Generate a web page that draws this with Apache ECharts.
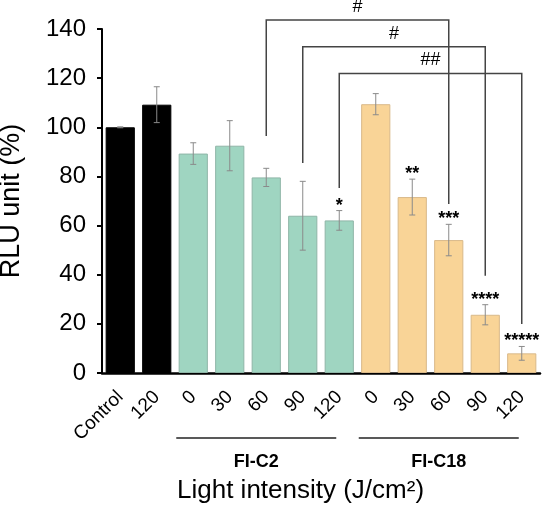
<!DOCTYPE html>
<html>
<head>
<meta charset="utf-8">
<script src="https://cdn.jsdelivr.net/npm/echarts@6/dist/echarts.min.js"></script>
<style>html,body{margin:0;padding:0;background:#fff;}#c{width:542px;height:510px;}</style>
</head>
<body>
<div id="c"></div>
<script>
// ---- data ----
var categories = ['Control', '120', '0', '30', '60', '90', '120', '0', '30', '60', '90', '120'];
var groupOf = ['ctrl', 'ctrl', 'c2', 'c2', 'c2', 'c2', 'c2', 'c18', 'c18', 'c18', 'c18', 'c18'];
var values = [100, 109.2, 89.3, 92.5, 79.6, 64.0, 62.1, 109.4, 71.6, 54.1, 23.7, 8.0];
var errors = [0.2, 7.3, 4.4, 10.2, 3.7, 14.0, 4.0, 4.3, 7.3, 6.4, 4.1, 2.8];
var stars = ['', '', '', '', '', '', '*', '', '**', '***', '****', '*****'];
var yTicks = [0, 20, 40, 60, 80, 100, 120, 140];
var bracketFrom = [4, 5, 6];
var bracketTo = [9, 10, 11];
var bracketTop = [143.7, 132.8, 121.9];
var bracketLeftEnd = [96.5, 85.5, 75.3];
var bracketRightEnd = [68.8, 39.6, 19.9];
var bracketLabels = ['#', '#', '##'];
var groupNames = ['FI-C2', 'FI-C18'];
var groupFrom = [2, 7];
var groupTo = [6, 11];

var colors = {ctrl: '#000000', c2: '#9fd5c1', c18: '#f9d497'};
var borders = {ctrl: '#000000', c2: '#8fb5a7', c18: '#d9b98a'};
var FONT = "'Liberation Sans', Arial, sans-serif";

var chart = echarts.init(document.getElementById('c'), null, {renderer: 'canvas'});

var barData = values.map(function (v, i) {
  return {value: v, itemStyle: {color: colors[groupOf[i]], borderColor: borders[groupOf[i]], borderWidth: 1}};
});
var errData = values.map(function (v, i) { return [i, v, errors[i], stars[i]]; });
var bracketData = bracketFrom.map(function (f, i) {
  return [f, bracketTo[i], bracketTop[i], bracketLeftEnd[i], bracketRightEnd[i], bracketLabels[i]];
});
var groupData = groupNames.map(function (n, i) { return [groupFrom[i], groupTo[i], n]; });

var option = {
  animation: false,
  backgroundColor: '#fff',
  grid: {left: 102, right: 2, top: 29, bottom: 137, containLabel: false, outerBoundsMode: 'none'},
  xAxis: {
    type: 'category',
    data: categories,
    axisLine: {lineStyle: {color: '#000', width: 2.5}},
    axisTick: {show: false},
    axisLabel: {rotate: 45, interval: 0, fontSize: 19, color: '#000', fontFamily: FONT, margin: 21},
    splitLine: {show: false}
  },
  yAxis: {
    type: 'value',
    min: yTicks[0], max: yTicks[yTicks.length - 1], interval: 20,
    axisLine: {show: true, lineStyle: {color: '#000', width: 2}},
    axisTick: {show: true, length: 5, lineStyle: {color: '#000', width: 2}},
    axisLabel: {fontSize: 24, color: '#000', fontFamily: FONT, margin: 16},
    splitLine: {show: false},
    name: 'RLU unit (%)',
    nameLocation: 'middle',
    nameRotate: 90,
    nameGap: 77,
    nameTextStyle: {fontSize: 27, color: '#000', fontFamily: FONT}
  },
  series: [
    {
      type: 'bar',
      data: barData,
      barCategoryGap: '20%',
      z: 2
    },
    {
      type: 'custom',
      data: errData,
      clip: false,
      z: 3,
      renderItem: function (params, api) {
        var i = api.value(0), v = api.value(1), e = api.value(2);
        var s = errData[params.dataIndex][3];
        var top = api.coord([i, v + e]);
        var bot = api.coord([i, v - e]);
        var w = 3;
        var st = {stroke: '#8a8a8a', lineWidth: 1};
        var children = [
          {type: 'line', shape: {x1: top[0], y1: top[1], x2: bot[0], y2: bot[1]}, style: st},
          {type: 'line', shape: {x1: top[0] - w, y1: top[1], x2: top[0] + w, y2: top[1]}, style: st},
          {type: 'line', shape: {x1: bot[0] - w, y1: bot[1], x2: bot[0] + w, y2: bot[1]}, style: st}
        ];
        if (s) {
          children.push({type: 'text', style: {text: s, x: top[0], y: top[1] + 4, align: 'center', verticalAlign: 'bottom',
            font: 'bold 18px ' + FONT, fill: '#000'}});
        }
        return {type: 'group', children: children};
      }
    },
    {
      type: 'custom',
      data: bracketData,
      clip: false,
      z: 4,
      renderItem: function (params, api) {
        var a = api.value(0), b = api.value(1), t = api.value(2), le = api.value(3), re = api.value(4);
        var lbl = bracketData[params.dataIndex][5];
        var p1 = api.coord([a, le]), p2 = api.coord([a, t]), p3 = api.coord([b, t]), p4 = api.coord([b, re]);
        return {type: 'group', children: [
          {type: 'polyline', shape: {points: [p1, p2, p3, p4]}, style: {stroke: '#444', lineWidth: 1.5, fill: null}},
          {type: 'text', style: {text: lbl, x: (p2[0] + p3[0]) / 2, y: p2[1] - 4, align: 'center', verticalAlign: 'bottom',
            font: '18px ' + FONT, fill: '#000'}}
        ]};
      }
    },
    {
      type: 'custom',
      data: groupData,
      clip: false,
      z: 4,
      renderItem: function (params, api) {
        var a = api.coord([api.value(0), 0]), b = api.coord([api.value(1), 0]);
        var name = groupData[params.dataIndex][2];
        var x1 = a[0] - 17, x2 = b[0] - 3, y = a[1] + 65;
        return {type: 'group', children: [
          {type: 'line', shape: {x1: x1, y1: y, x2: x2, y2: y}, style: {stroke: '#222', lineWidth: 1.5}},
          {type: 'text', style: {text: name, x: (x1 + x2) / 2, y: y + 24, align: 'center', verticalAlign: 'middle',
            font: 'bold 18px ' + FONT, fill: '#000'}}
        ]};
      }
    }
  ],
  graphic: [
    {type: 'text', left: 177, top: 478, style: {text: 'Light intensity (J/cm²)', font: '26px ' + FONT, fill: '#000'}}
  ]
};
chart.setOption(option);
</script>
</body>
</html>
